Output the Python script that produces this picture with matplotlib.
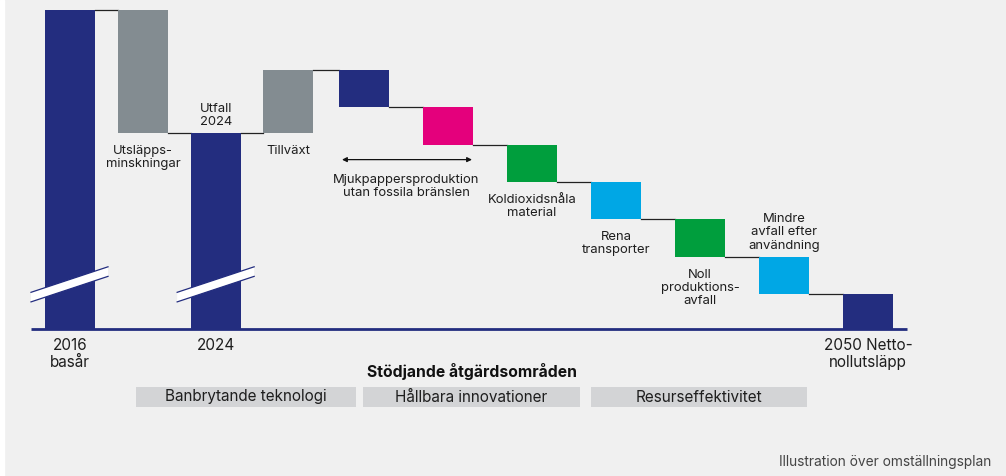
import numpy as np
import matplotlib.pyplot as plt
from matplotlib.patches import Rectangle, Polygon

plt.rcParams['font.family'] = ['Inter', 'DejaVu Sans']

# waterfall data (index, 2016 = 100)
kinds = ['total', 'delta', 'total', 'delta', 'delta', 'delta', 'delta',
         'delta', 'delta', 'delta', 'total']
deltas = [100, -38.5, 0, 19.7, -11.7, -11.7, -11.7, -11.7, -11.7, -11.7, 0]
colors = ['#232d7f', '#838c91', '#232d7f', '#838c91', '#232d7f', '#e4007c',
          '#009e3d', '#00a7e5', '#009e3d', '#00a7e5', '#232d7f']
bottom_labels = ['2016\nbasår', '', '2024', '', '', '', '', '', '', '',
                 '2050 Netto-\nnollutsläpp']
step_labels = ['', 'Utsläpps-\nminskningar', 'Utfall\n2024', 'Tillväxt', '', '',
               'Koldioxidsnåla\nmaterial', 'Rena\ntransporter',
               'Noll\nproduktions-\navfall', 'Mindre\navfall efter\nanvändning', '']
label_side = ['', 'below', 'above', 'below', '', '', 'below', 'below',
              'below', 'above', '']
span_label = 'Mjukpappersproduktion\nutan fossila bränslen'
section_title = 'Stödjande åtgärdsområden'
sections = ['Banbrytande teknologi', 'Hållbara innovationer', 'Resurseffektivitet']
footnote = 'Illustration över omställningsplan'

# layout
W, H = 1006, 476
xpos = np.array([0, 0.87, 1.74, 2.6, 3.5, 4.5, 5.5, 6.5, 7.5, 8.5, 9.5])
width = 0.595
PX, PY = 84.0, 3.19          # pixels per x unit / y unit
X0, Y0 = 70, 329             # pixel position of x=0 / y=0
navy = '#232d7f'
txt = '#1e1e1e'
small = 9.4
ls = 1.13

fig = plt.figure(figsize=(W / 100, H / 100), dpi=100)
fig.patch.set_facecolor('#f0f0f0')
ax = fig.add_axes([0, 0, 1, 1])
ax.set_facecolor('#f0f0f0')
ax.set_xlim(-X0 / PX, (W - X0) / PX)
ax.set_ylim((Y0 - H) / PY, Y0 / PY)
ax.axis('off')

# white strip on the left edge
fig.patches.append(Rectangle((0, 0), 4 / W, 1, transform=fig.transFigure,
                             color='white', zorder=0))

# compute bar extents
level = 0.0
lows, highs, ends = [], [], []
for k, d in zip(kinds, deltas):
    if k == 'total':
        if d:
            level = d
        lows.append(0)
        highs.append(level)
    else:
        new = level + d
        lows.append(min(level, new))
        highs.append(max(level, new))
        level = new
    ends.append(level)

ax.bar(xpos, np.array(highs) - np.array(lows), bottom=lows, width=width,
       color=colors, zorder=3)

# connectors
for i in range(len(xpos) - 1):
    ax.plot([xpos[i] + width / 2, xpos[i + 1] - width / 2], [ends[i], ends[i]],
            color='#222222', lw=0.9, zorder=2)

# axis line
ax.plot([-39 / PX, 9.964], [0, 0], color=navy, lw=2.0, zorder=4,
        solid_capstyle='butt')

# break marks
for i in [0, 2]:
    xl, xr = xpos[i] - 39 / PX, xpos[i] + 38 / PX
    yl, yr = 10.0, 18.0
    th = 3.0
    ax.add_patch(Polygon([[xl, yl - th / 2], [xr, yr - th / 2],
                          [xr, yr + th / 2], [xl, yl + th / 2]],
                         closed=True, facecolor='white', edgecolor='none',
                         zorder=5))
    for s in (-1, 1):
        ax.plot([xl, xr], [yl + s * th / 2, yr + s * th / 2], color=navy,
                lw=0.9, zorder=6)

# step labels
for i, lab in enumerate(step_labels):
    if not lab:
        continue
    if label_side[i] == 'below':
        ax.text(xpos[i], lows[i] - 12 / PY, lab, ha='center', va='top',
                fontsize=small, color=txt, linespacing=ls)
    else:
        ax.text(xpos[i], highs[i] + 5 / PY, lab, ha='center', va='bottom',
                fontsize=small, color=txt, linespacing=ls)

# spanning label with double arrow (bars 5 and 6)
ya = lows[5] - 15 / PY
ax.annotate('', xy=(xpos[4] - width / 2 + 3 / PX, ya),
            xytext=(xpos[5] + width / 2 - 1 / PX, ya),
            arrowprops=dict(arrowstyle='<|-|>', mutation_scale=7, lw=0.9,
                            color='#111111', shrinkA=0, shrinkB=0))
ax.text((xpos[4] + xpos[5]) / 2, ya - 14 / PY, span_label, ha='center',
        va='top', fontsize=small, color=txt, linespacing=ls)

# bottom labels
for i, lab in enumerate(bottom_labels):
    if lab:
        ax.text(xpos[i], -9 / PY, lab, ha='center', va='top', fontsize=11,
                color=txt, linespacing=1.2)

# supporting areas
fig.text(472 / W, 1 - 372 / H, section_title, ha='center', va='center',
         fontsize=11.3, fontweight='bold', color='#111111')
boxes = [(136, 356), (363, 580), (591, 807)]
for (l, r), name in zip(boxes, sections):
    fig.patches.append(Rectangle((l / W, 1 - 407 / H), (r - l) / W, 20 / H,
                                 transform=fig.transFigure,
                                 facecolor='#d3d4d6', edgecolor='none'))
    fig.text((l + r) / 2 / W, 1 - 397 / H, name, ha='center', va='center',
             fontsize=11, color='#1e1e1e')

fig.text(991 / W, 1 - 462 / H, footnote, ha='right', va='center', fontsize=9.9,
         color='#444444')

fig.savefig('out.png', dpi=100, facecolor=fig.get_facecolor())
